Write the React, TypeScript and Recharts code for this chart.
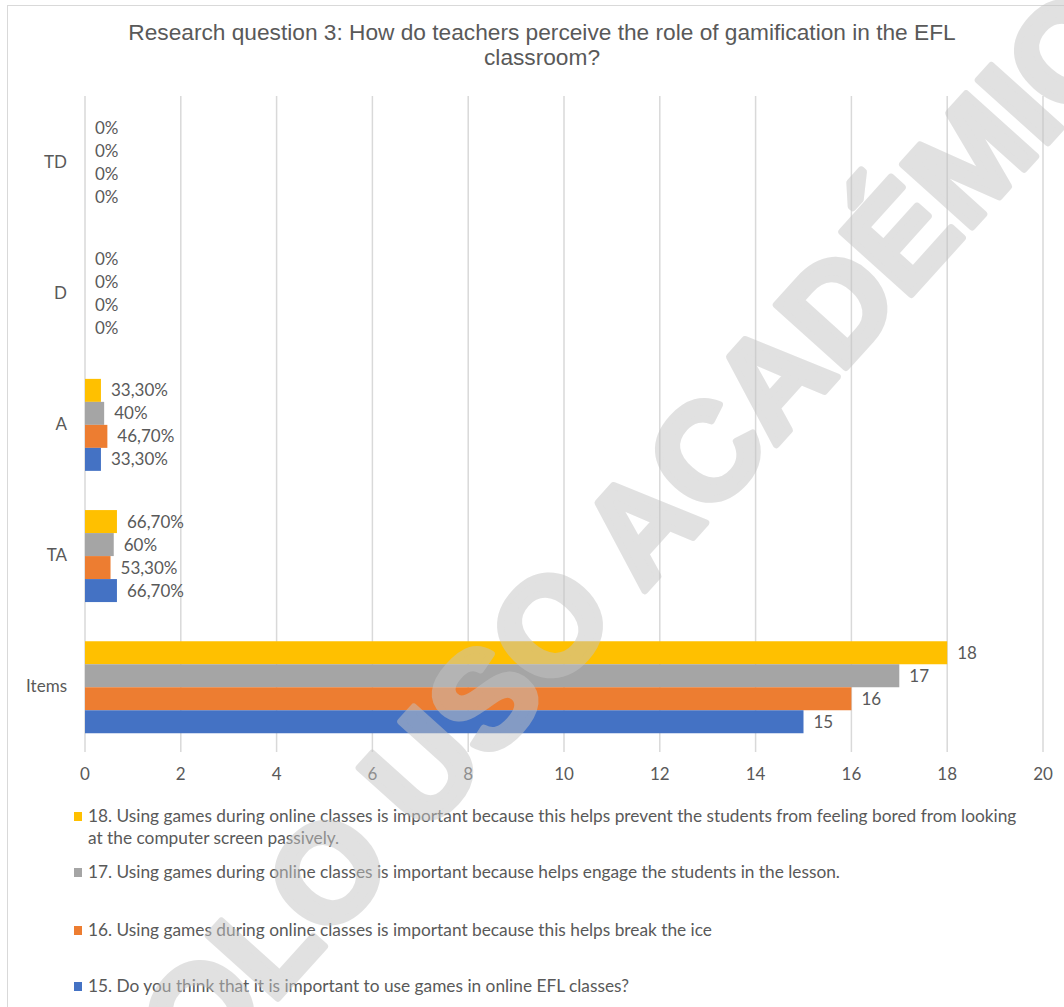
import { BarChart, Bar, XAxis, YAxis, CartesianGrid, LabelList } from 'recharts'

const categories = ['TD', 'D', 'A', 'TA', 'Items']
const q15 = [0, 0, 0.333, 0.667, 15]
const q16 = [0, 0, 0.467, 0.533, 16]
const q17 = [0, 0, 0.4, 0.6, 17]
const q18 = [0, 0, 0.333, 0.667, 18]
const q15Labels = ['0%', '0%', '33,30%', '66,70%', '15']
const q16Labels = ['0%', '0%', '46,70%', '53,30%', '16']
const q17Labels = ['0%', '0%', '40%', '60%', '17']
const q18Labels = ['0%', '0%', '33,30%', '66,70%', '18']
const xTicks = [0, 2, 4, 6, 8, 10, 12, 14, 16, 18, 20]

const series = [
  { key: 'q18', label: 'l18', color: '#FFC000', name: '18. Using games during online classes is important because this helps prevent the students from feeling bored from looking at the computer screen passively.' },
  { key: 'q17', label: 'l17', color: '#A5A5A5', name: '17. Using games during online classes is important because helps engage the students in the lesson.' },
  { key: 'q16', label: 'l16', color: '#ED7D31', name: '16. Using games during online classes is important because this helps break the ice' },
  { key: 'q15', label: 'l15', color: '#4472C4', name: '15. Do you think that it is important to use games in online EFL classes?' },
]

const data = categories.map((c, i) => ({
  cat: c,
  q15: q15[i],
  q16: q16[i],
  q17: q17[i],
  q18: q18[i],
  l15: q15Labels[i],
  l16: q16Labels[i],
  l17: q17Labels[i],
  l18: q18Labels[i],
}))

const font = 'Lato, Calibri, sans-serif'
const grey = '#595959'
const legendTops = [805, 861, 919, 975]

export default function App() {
  return (
    <div style={{ position: 'absolute', left: 0, top: 0, width: 1064, height: 1007, overflow: 'hidden', background: '#fff' }}>
      <div style={{ position: 'absolute', left: 7, top: 5, width: 1057, height: 1002, borderLeft: '1px solid #d9d9d9', borderTop: '1px solid #d9d9d9', boxSizing: 'border-box' }} />
      <div style={{ position: 'absolute', left: 0, top: 20, width: 1084, textAlign: 'center', fontFamily: '"Liberation Sans", Arial, sans-serif', fontSize: 22.7, lineHeight: '25px', color: grey }}>
        Research question 3: How do teachers perceive the role of gamification in the EFL
        <br />
        classroom?
      </div>
      <div style={{ position: 'absolute', left: 0, top: 0 }}>
        <BarChart
          width={1064}
          height={800}
          data={data}
          layout="vertical"
          margin={{ top: 96, right: 21, left: 0, bottom: 0 }}
          barCategoryGap="15.6%"
          barGap={0}
        >
          <CartesianGrid horizontal={false} stroke="#d9d9d9" strokeWidth={1.5} />
          <XAxis
            type="number"
            domain={[0, 20]}
            ticks={xTicks}
            axisLine={false}
            tickLine={false}
            tickSize={0}
            tickMargin={16}
            height={48}
            tick={{ fill: grey, fontSize: 17, fontFamily: font }}
          />
          <YAxis
            type="category"
            dataKey="cat"
            width={85}
            axisLine={false}
            tickLine={false}
            tickSize={0}
            tickMargin={18}
            tick={{ fill: grey, fontSize: 17, fontFamily: font }}
          />
          {series.map((s) => (
            <Bar key={s.key} dataKey={s.key} fill={s.color} minPointSize={0.01} isAnimationActive={false}>
              <LabelList dataKey={s.label} position="right" offset={10} fill={grey} fontSize={17} fontFamily={font} />
            </Bar>
          ))}
        </BarChart>
      </div>
      {series.map((s, i) => (
        <div key={s.key} style={{ position: 'absolute', left: 74, top: legendTops[i], width: 951, fontFamily: font, fontSize: 17.3, lineHeight: '22px', color: grey }}>
          <span style={{ position: 'absolute', left: 0, top: 7, width: 8, height: 9, background: s.color }} />
          <div style={{ marginLeft: 14 }}>{s.name}</div>
        </div>
      ))}
      <svg width={1064} height={1007} style={{ position: 'absolute', left: 0, top: 0, pointerEvents: 'none' }}>
        <g opacity={0.5}>
          <text
            x={637}
            y={529}
            transform="rotate(-48 637 529)"
            textAnchor="middle"
            dominantBaseline="central"
            fontFamily='"Liberation Sans", Arial, sans-serif'
            fontWeight="bold"
            fontSize={136}
            fill="#c4c4c4"
            stroke="#c4c4c4"
            strokeWidth={7}
            strokeLinejoin="round"
          >
            SOLO USO ACADÉMICO
          </text>
        </g>
      </svg>
    </div>
  )
}
